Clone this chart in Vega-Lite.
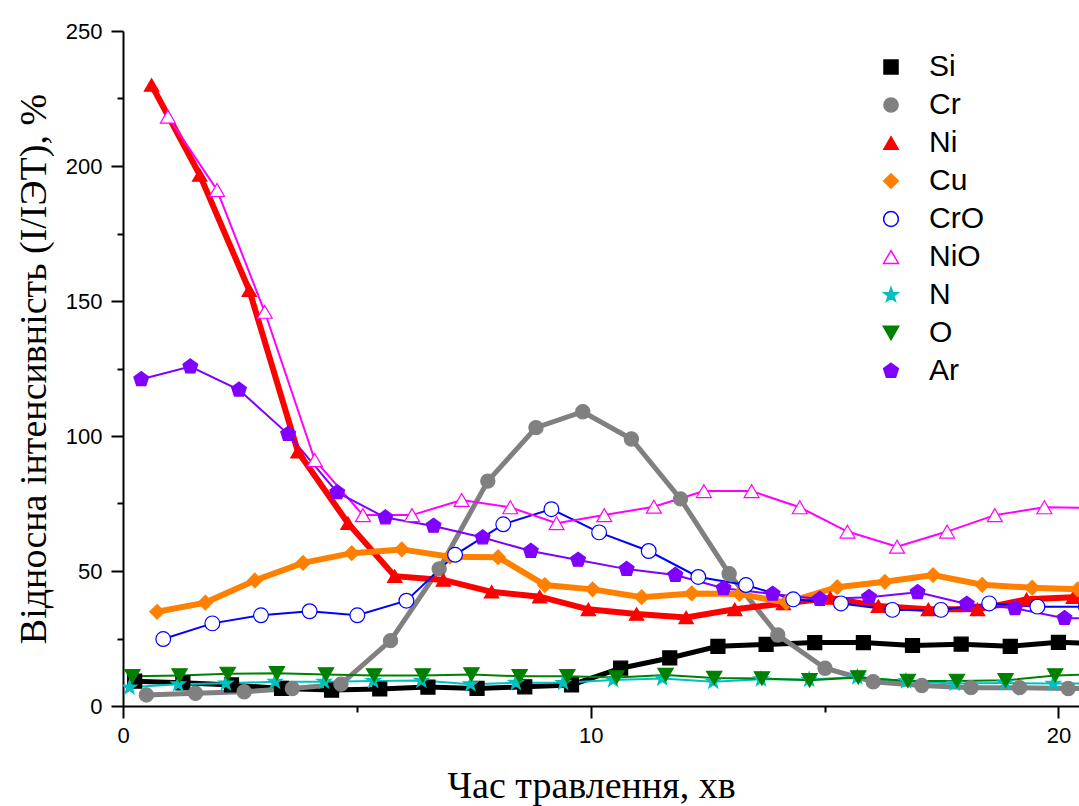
{
  "$schema": "https://vega.github.io/schema/vega-lite/v6.json",
  "width": 956,
  "height": 675,
  "autosize": {"type": "none"},
  "padding": {"left": 123, "top": 31, "right": 0, "bottom": 100},
  "background": "white",
  "config": {
    "view": {"stroke": null},
    "axis": {
      "grid": false,
      "domainColor": "#000000",
      "domainWidth": 2,
      "tickColor": "#000000",
      "tickWidth": 2,
      "labelFont": "Liberation Sans",
      "labelFontSize": 22,
      "labelColor": "#000000",
      "titleFont": "Liberation Serif",
      "titleFontSize": 38,
      "titleFontWeight": "normal",
      "titleColor": "#000000"
    }
  },
  "data": {
    "values": [
      {"s": "Si", "t": 0.25, "v": 9.2}, {"s": "Si", "t": 1.28, "v": 8.6}, {"s": "Si", "t": 2.32, "v": 7.8}, {"s": "Si", "t": 3.39, "v": 6.5}, {"s": "Si", "t": 4.46, "v": 5.9}, {"s": "Si", "t": 5.49, "v": 6.3}, {"s": "Si", "t": 6.52, "v": 7.0}, {"s": "Si", "t": 7.57, "v": 6.5}, {"s": "Si", "t": 8.59, "v": 7.1}, {"s": "Si", "t": 9.59, "v": 7.8}, {"s": "Si", "t": 10.64, "v": 14.0}, {"s": "Si", "t": 11.69, "v": 17.8}, {"s": "Si", "t": 12.72, "v": 22.1}, {"s": "Si", "t": 13.75, "v": 22.8}, {"s": "Si", "t": 14.79, "v": 23.5}, {"s": "Si", "t": 15.83, "v": 23.5}, {"s": "Si", "t": 16.88, "v": 22.4}, {"s": "Si", "t": 17.92, "v": 22.9}, {"s": "Si", "t": 18.97, "v": 22.1}, {"s": "Si", "t": 20.0, "v": 23.6}, {"s": "Si", "t": 21.04, "v": 23.0},
      {"s": "Cr", "t": 0.5, "v": 4.1}, {"s": "Cr", "t": 1.55, "v": 4.7}, {"s": "Cr", "t": 2.59, "v": 5.3}, {"s": "Cr", "t": 3.62, "v": 6.5}, {"s": "Cr", "t": 4.66, "v": 8.1}, {"s": "Cr", "t": 5.72, "v": 24.2}, {"s": "Cr", "t": 6.76, "v": 50.8}, {"s": "Cr", "t": 7.8, "v": 83.3}, {"s": "Cr", "t": 8.83, "v": 103.1}, {"s": "Cr", "t": 9.83, "v": 109.0}, {"s": "Cr", "t": 10.87, "v": 98.9}, {"s": "Cr", "t": 11.92, "v": 76.7}, {"s": "Cr", "t": 12.96, "v": 49.0}, {"s": "Cr", "t": 14.0, "v": 26.3}, {"s": "Cr", "t": 15.01, "v": 14.0}, {"s": "Cr", "t": 16.04, "v": 9.0}, {"s": "Cr", "t": 17.08, "v": 7.6}, {"s": "Cr", "t": 18.13, "v": 6.8}, {"s": "Cr", "t": 19.17, "v": 6.8}, {"s": "Cr", "t": 20.21, "v": 6.5}, {"s": "Cr", "t": 21.25, "v": 6.4},
      {"s": "Ni", "t": 0.61, "v": 230.0}, {"s": "Ni", "t": 1.64, "v": 196.7}, {"s": "Ni", "t": 2.7, "v": 154.0}, {"s": "Ni", "t": 3.74, "v": 94.2}, {"s": "Ni", "t": 4.81, "v": 67.7}, {"s": "Ni", "t": 5.81, "v": 48.1}, {"s": "Ni", "t": 6.85, "v": 46.7}, {"s": "Ni", "t": 7.88, "v": 42.3}, {"s": "Ni", "t": 8.91, "v": 40.5}, {"s": "Ni", "t": 9.95, "v": 35.8}, {"s": "Ni", "t": 10.98, "v": 34.1}, {"s": "Ni", "t": 12.04, "v": 32.8}, {"s": "Ni", "t": 13.08, "v": 35.8}, {"s": "Ni", "t": 14.12, "v": 38.0}, {"s": "Ni", "t": 15.12, "v": 40.0}, {"s": "Ni", "t": 16.15, "v": 37.0}, {"s": "Ni", "t": 17.22, "v": 35.8}, {"s": "Ni", "t": 18.27, "v": 35.8}, {"s": "Ni", "t": 19.32, "v": 39.5}, {"s": "Ni", "t": 20.32, "v": 40.3}, {"s": "Ni", "t": 21.36, "v": 40.5},
      {"s": "Cu", "t": 0.73, "v": 34.9}, {"s": "Cu", "t": 1.76, "v": 38.3}, {"s": "Cu", "t": 2.82, "v": 46.5}, {"s": "Cu", "t": 3.85, "v": 53.0}, {"s": "Cu", "t": 4.89, "v": 56.6}, {"s": "Cu", "t": 5.96, "v": 58.0}, {"s": "Cu", "t": 6.99, "v": 55.3}, {"s": "Cu", "t": 8.02, "v": 55.1}, {"s": "Cu", "t": 9.02, "v": 44.8}, {"s": "Cu", "t": 10.04, "v": 43.2}, {"s": "Cu", "t": 11.09, "v": 40.3}, {"s": "Cu", "t": 12.16, "v": 41.7}, {"s": "Cu", "t": 13.18, "v": 41.5}, {"s": "Cu", "t": 14.18, "v": 38.3}, {"s": "Cu", "t": 15.27, "v": 44.0}, {"s": "Cu", "t": 16.29, "v": 46.0}, {"s": "Cu", "t": 17.32, "v": 48.5}, {"s": "Cu", "t": 18.37, "v": 44.9}, {"s": "Cu", "t": 19.44, "v": 43.8}, {"s": "Cu", "t": 20.41, "v": 43.2}, {"s": "Cu", "t": 21.45, "v": 43.2},
      {"s": "CrO", "t": 0.86, "v": 24.8}, {"s": "CrO", "t": 1.91, "v": 30.6}, {"s": "CrO", "t": 2.95, "v": 33.6}, {"s": "CrO", "t": 3.99, "v": 35.1}, {"s": "CrO", "t": 5.01, "v": 33.6}, {"s": "CrO", "t": 6.06, "v": 39.0}, {"s": "CrO", "t": 7.1, "v": 56.0}, {"s": "CrO", "t": 8.13, "v": 67.3}, {"s": "CrO", "t": 9.16, "v": 72.9}, {"s": "CrO", "t": 10.18, "v": 64.3}, {"s": "CrO", "t": 11.24, "v": 57.4}, {"s": "CrO", "t": 12.3, "v": 47.8}, {"s": "CrO", "t": 13.32, "v": 44.8}, {"s": "CrO", "t": 14.33, "v": 39.5}, {"s": "CrO", "t": 15.35, "v": 38.0}, {"s": "CrO", "t": 16.45, "v": 35.6}, {"s": "CrO", "t": 17.49, "v": 35.6}, {"s": "CrO", "t": 18.52, "v": 38.0}, {"s": "CrO", "t": 19.55, "v": 36.8}, {"s": "CrO", "t": 20.59, "v": 36.8},
      {"s": "NiO", "t": 0.96, "v": 218.3}, {"s": "NiO", "t": 2.01, "v": 191.1}, {"s": "NiO", "t": 3.03, "v": 146.0}, {"s": "NiO", "t": 4.1, "v": 91.1}, {"s": "NiO", "t": 5.13, "v": 70.7}, {"s": "NiO", "t": 6.18, "v": 70.7}, {"s": "NiO", "t": 7.24, "v": 76.3}, {"s": "NiO", "t": 8.28, "v": 73.6}, {"s": "NiO", "t": 9.27, "v": 67.7}, {"s": "NiO", "t": 10.29, "v": 70.7}, {"s": "NiO", "t": 11.35, "v": 73.8}, {"s": "NiO", "t": 12.42, "v": 79.6}, {"s": "NiO", "t": 13.44, "v": 79.6}, {"s": "NiO", "t": 14.47, "v": 73.6}, {"s": "NiO", "t": 15.49, "v": 64.6}, {"s": "NiO", "t": 16.55, "v": 59.0}, {"s": "NiO", "t": 17.62, "v": 64.6}, {"s": "NiO", "t": 18.64, "v": 70.7}, {"s": "NiO", "t": 19.7, "v": 73.6}, {"s": "NiO", "t": 20.74, "v": 73.3},
      {"s": "N", "t": 0.14, "v": 6.9}, {"s": "N", "t": 1.18, "v": 8.1}, {"s": "N", "t": 2.2, "v": 8.4}, {"s": "N", "t": 3.25, "v": 9.0}, {"s": "N", "t": 4.3, "v": 9.0}, {"s": "N", "t": 5.35, "v": 9.3}, {"s": "N", "t": 6.38, "v": 9.4}, {"s": "N", "t": 7.43, "v": 8.1}, {"s": "N", "t": 8.4, "v": 8.6}, {"s": "N", "t": 9.41, "v": 8.6}, {"s": "N", "t": 10.48, "v": 9.6}, {"s": "N", "t": 11.53, "v": 10.2}, {"s": "N", "t": 12.62, "v": 9.0}, {"s": "N", "t": 13.64, "v": 9.9}, {"s": "N", "t": 14.67, "v": 9.8}, {"s": "N", "t": 15.7, "v": 10.7}, {"s": "N", "t": 16.74, "v": 9.2}, {"s": "N", "t": 17.78, "v": 8.3}, {"s": "N", "t": 18.86, "v": 8.5}, {"s": "N", "t": 19.89, "v": 8.3}, {"s": "N", "t": 20.94, "v": 8.3},
      {"s": "O", "t": 0.2, "v": 11.0}, {"s": "O", "t": 1.21, "v": 11.3}, {"s": "O", "t": 2.24, "v": 11.9}, {"s": "O", "t": 3.29, "v": 12.1}, {"s": "O", "t": 4.34, "v": 11.7}, {"s": "O", "t": 5.37, "v": 11.3}, {"s": "O", "t": 6.41, "v": 11.3}, {"s": "O", "t": 7.45, "v": 11.7}, {"s": "O", "t": 8.48, "v": 11.0}, {"s": "O", "t": 9.5, "v": 11.0}, {"s": "O", "t": 10.55, "v": 10.6}, {"s": "O", "t": 11.6, "v": 11.5}, {"s": "O", "t": 12.64, "v": 10.4}, {"s": "O", "t": 13.66, "v": 10.2}, {"s": "O", "t": 14.68, "v": 9.5}, {"s": "O", "t": 15.72, "v": 10.6}, {"s": "O", "t": 16.78, "v": 9.3}, {"s": "O", "t": 17.83, "v": 9.3}, {"s": "O", "t": 18.87, "v": 9.5}, {"s": "O", "t": 19.93, "v": 11.3}, {"s": "O", "t": 20.98, "v": 11.8},
      {"s": "Ar", "t": 0.39, "v": 121.0}, {"s": "Ar", "t": 1.44, "v": 125.7}, {"s": "Ar", "t": 2.48, "v": 117.1}, {"s": "Ar", "t": 3.53, "v": 100.7}, {"s": "Ar", "t": 4.58, "v": 79.1}, {"s": "Ar", "t": 5.61, "v": 69.8}, {"s": "Ar", "t": 6.64, "v": 66.7}, {"s": "Ar", "t": 7.69, "v": 62.4}, {"s": "Ar", "t": 8.72, "v": 57.4}, {"s": "Ar", "t": 9.73, "v": 54.1}, {"s": "Ar", "t": 10.77, "v": 50.7}, {"s": "Ar", "t": 11.81, "v": 48.5}, {"s": "Ar", "t": 12.84, "v": 43.6}, {"s": "Ar", "t": 13.89, "v": 41.5}, {"s": "Ar", "t": 14.9, "v": 39.6}, {"s": "Ar", "t": 15.95, "v": 40.3}, {"s": "Ar", "t": 16.99, "v": 42.1}, {"s": "Ar", "t": 18.04, "v": 37.8}, {"s": "Ar", "t": 19.07, "v": 36.2}, {"s": "Ar", "t": 20.13, "v": 32.5}, {"s": "Ar", "t": 21.15, "v": 32.5}
    ]
  },
  "resolve": {"axis": {"x": "independent", "y": "independent"}},
  "layer": [
    {
      "transform": [{"filter": {"field": "s", "oneOf": ["Si", "Cr"]}}],
      "mark": {"type": "line", "clip": true, "strokeWidth": 5},
      "encoding": {
        "x": {
          "field": "t",
          "type": "quantitative",
          "scale": {"domain": [0, 20.44], "nice": false, "zero": false},
          "axis": {
            "orient": "bottom",
            "values": [0, 10, 20],
            "tickSize": 12,
            "labelFlush": false,
            "labelPadding": 7,
            "title": "Час травлення, хв",
            "titleX": 468,
            "titlePadding": 21
          }
        },
        "y": {
          "field": "v",
          "type": "quantitative",
          "scale": {"domain": [0, 250], "nice": false},
          "axis": {
            "orient": "left",
            "values": [0, 50, 100, 150, 200, 250],
            "tickSize": 12,
            "labelPadding": 9,
            "title": "Відносна інтенсивність (I/IЭТ), %",
            "titlePadding": 12
          }
        },
        "color": {
          "field": "s",
          "type": "nominal",
          "scale": {
            "domain": ["Si", "Cr", "Ni", "Cu", "CrO", "NiO", "N", "O", "Ar"],
            "range": ["#000000", "#808080", "#ff0000", "#ff8000", "#0000ff", "#ff00ff", "#00c0c0", "#008000", "#8000ff"]
          },
          "legend": {
            "title": null,
            "orient": "none",
            "legendX": 753,
            "legendY": 21,
            "padding": 0,
            "symbolSize": 200,
            "symbolStrokeWidth": 1.5,
            "symbolOpacity": 1,
            "labelOffset": 23,
            "rowPadding": 8,
            "labelFont": "Liberation Sans",
            "labelFontSize": 30,
            "labelColor": "#000000"
          }
        }
      }
    },
    {
      "transform": [{"filter": {"field": "s", "oneOf": ["Ni", "Cu"]}}],
      "mark": {"type": "line", "clip": true, "strokeWidth": 6},
      "encoding": {
        "x": {"field": "t", "type": "quantitative", "axis": null},
        "y": {"field": "v", "type": "quantitative", "axis": null},
        "color": {
          "field": "s",
          "type": "nominal",
          "scale": {
            "domain": ["Si", "Cr", "Ni", "Cu", "CrO", "NiO", "N", "O", "Ar"],
            "range": ["#000000", "#808080", "#ff0000", "#ff8000", "#0000ff", "#ff00ff", "#00c0c0", "#008000", "#8000ff"]
          },
          "legend": null
        }
      }
    },
    {
      "transform": [{"filter": {"field": "s", "oneOf": ["CrO", "NiO", "N", "O", "Ar"]}}],
      "mark": {"type": "line", "clip": true, "strokeWidth": 2},
      "encoding": {
        "x": {"field": "t", "type": "quantitative", "axis": null},
        "y": {"field": "v", "type": "quantitative", "axis": null},
        "color": {
          "field": "s",
          "type": "nominal",
          "scale": {
            "domain": ["Si", "Cr", "Ni", "Cu", "CrO", "NiO", "N", "O", "Ar"],
            "range": ["#000000", "#808080", "#ff0000", "#ff8000", "#0000ff", "#ff00ff", "#00c0c0", "#008000", "#8000ff"]
          },
          "legend": null
        }
      }
    },
    {
      "mark": {"type": "point", "clip": true, "opacity": 1, "strokeWidth": 1.2},
      "encoding": {
        "x": {
          "field": "t",
          "type": "quantitative",
          "axis": {
            "orient": "bottom",
            "values": [5, 15],
            "tickSize": 6,
            "labels": false,
            "domain": false,
            "title": null
          }
        },
        "y": {
          "field": "v",
          "type": "quantitative",
          "axis": {
            "orient": "left",
            "values": [25, 75, 125, 175, 225],
            "tickSize": 6,
            "labels": false,
            "domain": false,
            "title": null
          }
        },
        "stroke": {
          "field": "s",
          "type": "nominal",
          "scale": {
            "domain": ["Si", "Cr", "Ni", "Cu", "CrO", "NiO", "N", "O", "Ar"],
            "range": ["#000000", "#808080", "#ff0000", "#ff8000", "#0000ff", "#ff00ff", "#00c0c0", "#008000", "#8000ff"]
          },
          "legend": null
        },
        "fill": {
          "field": "s",
          "type": "nominal",
          "scale": {
            "domain": ["Si", "Cr", "Ni", "Cu", "CrO", "NiO", "N", "O", "Ar"],
            "range": ["#000000", "#808080", "#ff0000", "#ff8000", "#ffffff", "#ffffff", "#00c0c0", "#008000", "#8000ff"]
          },
          "legend": null
        },
        "shape": {
          "field": "s",
          "type": "nominal",
          "scale": {
            "domain": ["Si", "Cr", "Ni", "Cu", "CrO", "NiO", "N", "O", "Ar"],
            "range": ["square", "circle", "triangle-up", "diamond", "circle", "triangle-up", "M0,-1L0.235,-0.324L0.951,-0.309L0.38,0.124L0.588,0.809L0,0.4L-0.588,0.809L-0.38,0.124L-0.951,-0.309L-0.235,-0.324Z", "triangle-down", "M0,-1L0.951,-0.309L0.588,0.809L-0.588,0.809L-0.951,-0.309Z"]
          },
          "legend": null
        },
        "size": {
          "field": "s",
          "type": "nominal",
          "scale": {
            "domain": ["Si", "Cr", "Ni", "Cu", "CrO", "NiO", "N", "O", "Ar"],
            "range": [196, 240, 340, 300, 200, 280, 240, 280, 260]
          },
          "legend": null
        }
      }
    }
  ]
}
